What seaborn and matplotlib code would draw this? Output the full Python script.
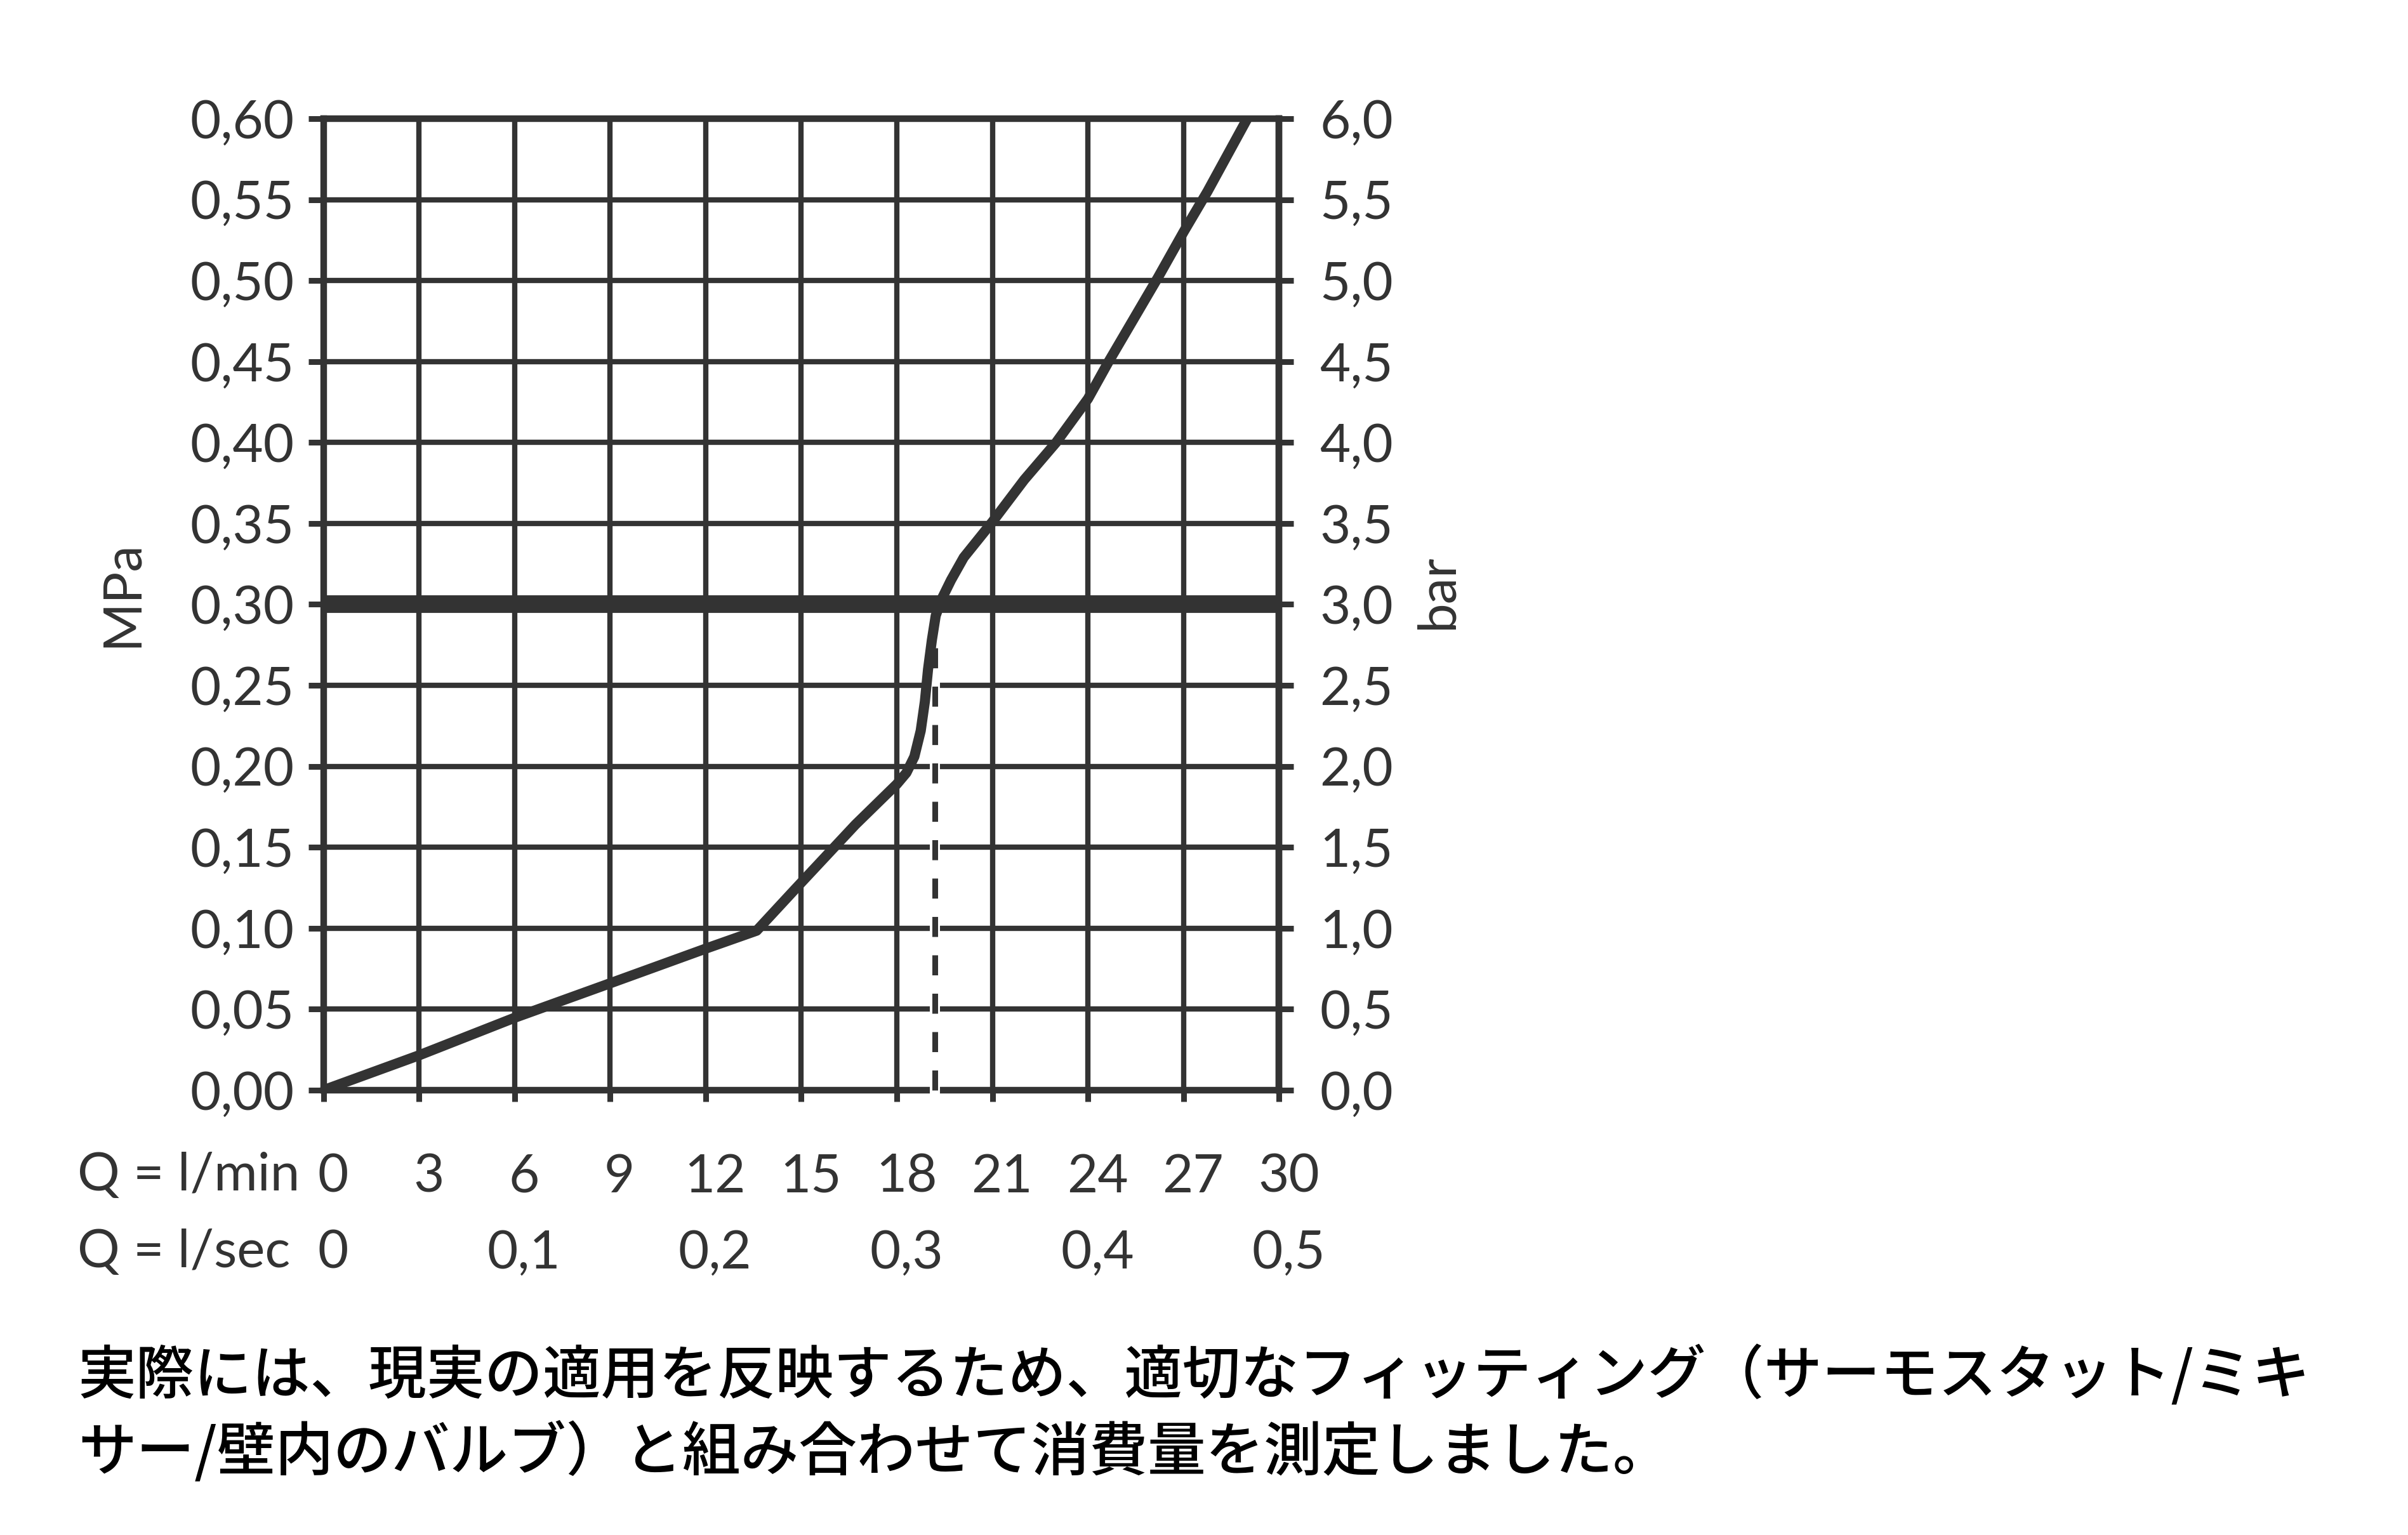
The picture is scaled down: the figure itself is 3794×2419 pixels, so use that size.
"""
Pressure vs. flow rate chart (MPa / bar against l/min and l/sec).
"""
import matplotlib
matplotlib.use("Agg")
import matplotlib.pyplot as plt
from matplotlib.ticker import FuncFormatter
from matplotlib.transforms import ScaledTranslation
import seaborn as sns
import pandas as pd


INK = "#333333"

# curve: flow rate (l/min) -> pressure (MPa)
flow_lpm = [0, 3, 6, 9, 12, 13.6, 14.8, 16.7, 18.0, 18.3, 18.55, 18.75,
            18.88, 18.98, 19.1, 19.22, 19.4, 19.7, 20.1, 21.0, 22.0, 23.0,
            24.0, 24.65, 26.2, 27.0, 27.75, 29.0]
pressure_mpa = [0, 0.0215, 0.0447, 0.066, 0.0874, 0.0985, 0.124, 0.164,
                0.189, 0.196, 0.206, 0.222, 0.24, 0.26, 0.278, 0.293,
                0.303, 0.315, 0.329, 0.351, 0.377, 0.40, 0.427, 0.45,
                0.502, 0.530, 0.555, 0.60]

# 3 bar reference line and the flow rate reached there
ref_pressure = 0.30
flow_at_ref = 19.2
dash_top = 0.275

flow_ticks = [0, 3, 6, 9, 12, 15, 18, 21, 24, 27, 30]
sec_ticks = [0, 0.1, 0.2, 0.3, 0.4, 0.5]
mpa_ticks = [0, 0.05, 0.10, 0.15, 0.20, 0.25, 0.30, 0.35, 0.40, 0.45,
             0.50, 0.55, 0.60]
bar_ticks = [0, 0.5, 1.0, 1.5, 2.0, 2.5, 3.0, 3.5, 4.0, 4.5, 5.0, 5.5, 6.0]

note_lines = [
    "実際には、現実の適用を反映するため、適切なフィッティング（サーモスタット/ミキ",
    "サー/壁内のバルブ）と組み合わせて消費量を測定しました。",
]


def comma_fmt(decimals):
    return FuncFormatter(lambda v, _pos: f"{v:.{decimals}f}".replace(".", ","))


sns.set_style("white")
plt.rcParams["font.family"] = ["Lato", "DejaVu Sans"]

fig = plt.figure(figsize=(37.94, 24.19), dpi=100)
ax = fig.add_axes([0.1343, 0.2898, 0.3969, 0.6329])

df = pd.DataFrame({"flow": flow_lpm, "pressure": pressure_mpa})
sns.lineplot(data=df, x="flow", y="pressure", ax=ax, sort=False,
             color=INK, linewidth=11.5, zorder=2.8,
             solid_capstyle="butt", solid_joinstyle="round")

# 3 bar line
ax.axhline(ref_pressure, color=INK, linewidth=20, zorder=2.65,
           solid_capstyle="butt")

# dashed drop line with a white gap around it
ax.plot([flow_at_ref, flow_at_ref], [0, dash_top], color="white",
        linewidth=11.5, solid_capstyle="projecting", clip_on=False, zorder=2.6)
ax.plot([flow_at_ref, flow_at_ref], [0, dash_top], color=INK,
        linewidth=6.5, linestyle=(0, (3.5, 3.2)), dash_capstyle="butt",
        clip_on=False, zorder=2.7)

ax.set_xlim(0, 30)
ax.set_ylim(0, 0.6)
ax.set_xticks(flow_ticks)
ax.set_yticks(mpa_ticks)
ax.yaxis.set_major_formatter(comma_fmt(2))
ax.set_xlabel("")

ax.grid(True, color=INK, linewidth=6)
ax.set_axisbelow(True)
for spine in ax.spines.values():
    spine.set_color(INK)
    spine.set_linewidth(7.5)

ax.tick_params(axis="y", left=True, direction="out", length=17, width=6.5,
               color=INK, pad=16, labelsize=60, labelcolor=INK)
ax.tick_params(axis="x", bottom=True, direction="out", length=13, width=6.5,
               color=INK, pad=59, labelsize=60, labelcolor=INK)

ax.set_ylabel("MPa", fontsize=60, color=INK)
ax.yaxis.set_label_coords(-0.185, 0.511)

# bar scale on the right
ax2 = ax.twinx()
ax2.set_ylim(0, 6)
ax2.set_yticks(bar_ticks)
ax2.yaxis.set_major_formatter(comma_fmt(1))
ax2.grid(False)
for name, spine in ax2.spines.items():
    spine.set_visible(name == "right")
    spine.set_color(INK)
    spine.set_linewidth(7.5)
ax2.tick_params(axis="y", right=True, direction="out", length=16.5, width=6.5,
                color=INK, pad=29.5, labelsize=60, labelcolor=INK)
ax2.set_ylabel("bar", fontsize=60, color=INK)
ax2.yaxis.set_label_coords(1.141, 0.513)

# l/sec row under the l/min row
sec = ax.secondary_xaxis("bottom", functions=(lambda q: q / 60, lambda s: s * 60))
sec.set_xticks(sec_ticks)
sec.xaxis.set_major_formatter(
    FuncFormatter(lambda v, _p: "0" if v == 0 else f"{v:.1f}".replace(".", ",")))
sec.tick_params(axis="x", length=0, pad=158, labelsize=60, labelcolor=INK)
for spine in sec.spines.values():
    spine.set_visible(False)

shift = ScaledTranslation(0.15, 0, fig.dpi_scale_trans)
for lbl in ax.get_xticklabels() + sec.get_xticklabels():
    lbl.set_transform(lbl.get_transform() + shift)

fig.text(122 / 3794, 1 - 1876 / 2419, "Q = l/min", ha="left", va="baseline",
         fontsize=60, color=INK)
fig.text(122 / 3794, 1 - 1997 / 2419, "Q = l/sec", ha="left", va="baseline",
         fontsize=60, color=INK)

cjk = ["Noto Sans CJK JP", "DejaVu Sans"]
fig.text(123 / 3794, 1 - 2196 / 2419, note_lines[0], ha="left", va="baseline",
         fontsize=66, color="black", family=cjk, weight="medium")
fig.text(123 / 3794, 1 - 2317 / 2419, note_lines[1], ha="left", va="baseline",
         fontsize=66, color="black", family=cjk, weight="medium")

fig.savefig("out.png", dpi=100)
